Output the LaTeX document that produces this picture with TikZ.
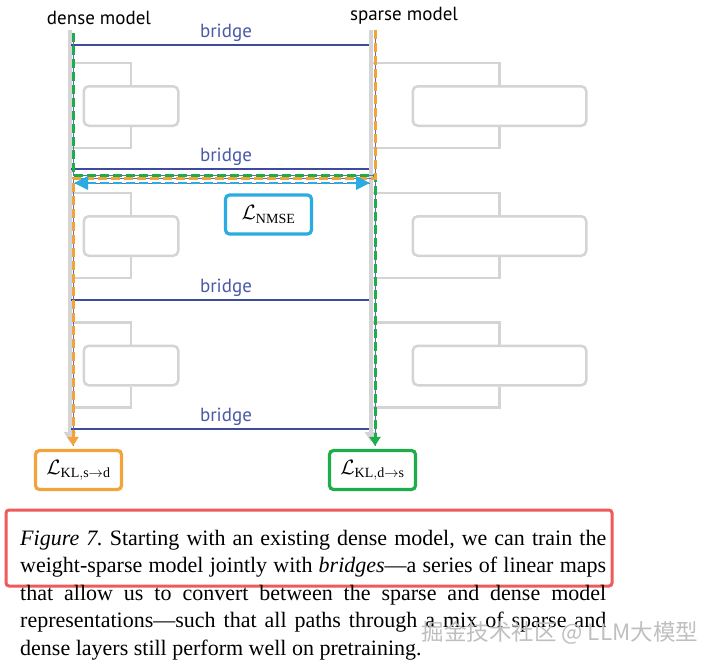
\documentclass[tikz,border=0pt]{standalone}
\usepackage{fontspec}
\setmainfont{Liberation Serif}
\newfontfamily\labelfont{PT Sans}
\newfontfamily\cjkfont{Noto Sans CJK SC}
\usetikzlibrary{arrows.meta}
\definecolor{streamgray}{HTML}{D4D4D4}
\definecolor{bridgeblue}{HTML}{3C4B9C}
\definecolor{bridgetext}{HTML}{4B5AA8}
\definecolor{klorange}{HTML}{F2A33A}
\definecolor{klgreen}{HTML}{1FAD4C}
\definecolor{nmseblue}{HTML}{2AACE2}
\definecolor{capred}{HTML}{EF5A5A}

\begin{document}
\begin{tikzpicture}[x=1pt,y=-1pt,
    stream/.style={draw=streamgray, line width=3.5pt, -{Triangle[width=12pt,length=10pt]}},
    blockbox/.style={draw=streamgray, line width=2.5pt, rounded corners=5pt, minimum height=39.5pt, inner sep=0pt},
    bracket/.style={draw=streamgray, line width=2.5pt},
    bridgeline/.style={draw=bridgeblue, line width=2.6pt},
    bridgelabel/.style={text=bridgetext, font=\labelfont\fontsize{19}{20}\selectfont, above, inner sep=2pt},
    lossbox/.style={rounded corners=4pt, line width=3.2pt, minimum width=86pt, minimum height=39pt, inner sep=0pt, fill=white, font=\fontsize{20}{24}\selectfont},
    lossdash/.style={line width=3pt, dash pattern=on 9pt off 4pt},
    thinpath/.style={draw=bridgeblue!80, line width=0.6pt}]
  \useasboundingbox[fill=white] (0,0) rectangle (708,669);

  % residual streams
  \coordinate (dtop) at (70,30);
  \coordinate (dbot) at (70,442);
  \coordinate (stop) at (371,30);
  \coordinate (sbot) at (371,442);
  \draw[stream] (dtop) -- (dbot);
  \draw[stream] (stop) -- (sbot);
  \node[font=\labelfont\fontsize{19}{20}\selectfont] (dlabel) at (99,18) {dense model};
  \node[font=\labelfont\fontsize{19}{20}\selectfont] (slabel) at (404,16) {sparse model};

  % blocks
  \foreach \i/\y in {1/106, 2/236, 3/365.5} {
    \node[blockbox, minimum width=94.5pt] (dblk\i) at (131,\y) {};
    \node[blockbox, minimum width=173.5pt] (sblk\i) at (499.5,\y) {};
    \draw[bracket] (dblk\i.north) |- ([yshift=22pt]dblk\i.north -| dtop);
    \draw[bracket] (dblk\i.south) |- ([yshift=-21pt]dblk\i.south -| dtop);
    \draw[bracket] (sblk\i.north) |- ([yshift=22pt]sblk\i.north -| stop);
    \draw[bracket] (sblk\i.south) |- ([yshift=-21pt]sblk\i.south -| stop);
  }

  % bridges
  \foreach \i/\y in {1/45, 2/169, 3/300, 4/429} {
    \coordinate (bl\i) at (71,\y);
    \coordinate (br\i) at (369,\y);
    \draw[bridgeline] (bl\i) -- node[bridgelabel, pos=0.52] {bridge} (br\i);
  }

  % losses
  \node[lossbox, draw=nmseblue] (nmse) at (268.5,214.5) {$\mathcal{L}_{\mathrm{NMSE}}$};
  \node[lossbox, draw=klorange] (klsd) at (78.5,470) {$\mathcal{L}_{\mathrm{KL,s\to d}}$};
  \node[lossbox, draw=klgreen] (klds) at (372.5,470) {$\mathcal{L}_{\mathrm{KL,d\to s}}$};

  % paths through the mix
  \coordinate (gstart) at (73,33);
  \coordinate (gturn) at (73,175);
  \coordinate (gcross) at (375,175);
  \coordinate (ostart) at (375,30);
  \coordinate (oturn) at (375,178);
  \coordinate (ocross) at (73,178);
  \coordinate (nl) at (74,183);
  \coordinate (nr) at (370,183);
  \draw[thinpath] (gstart) -- (gturn) -- (gcross) -- ([yshift=3pt]klds.north -| gcross);
  \draw[thinpath] (ostart) -- (oturn) -- (ocross) -- ([yshift=3pt]klsd.north -| ocross);
  \draw[thinpath] (nl) -- (nr);
  \draw[lossdash, draw=klgreen, -{Triangle[width=11pt,length=9pt]}]
    (gstart) -- (gturn) -- (gcross) -- ([yshift=3pt]klds.north -| gcross);
  \draw[lossdash, draw=klorange, -{Triangle[width=11pt,length=9pt]}]
    (ostart) -- (oturn) -- (ocross) -- ([yshift=3pt]klsd.north -| ocross);
  \draw[lossdash, draw=nmseblue, line width=2.6pt, {Triangle[width=13pt,length=14pt]}-{Triangle[width=13pt,length=14pt]}]
    (nl) -- (nr);

  % caption
  \draw[capred, line width=3pt, rounded corners=3pt] (6,510) rectangle (612,586);
  \node[anchor=north west, text width=586pt, align=justify, inner sep=0pt,
        font=\fontsize{22}{27.5}\selectfont\frenchspacing] (caption) at (20,530)
    {\textit{Figure 7.} Starting with an existing dense model, we can train the\linebreak
     weight-sparse model jointly with \textit{bridges}---a series of linear maps\linebreak
     that allow us to convert between the sparse and dense model\linebreak
     representations---such that all paths through a mix of sparse and\linebreak
     dense layers still perform well on pretraining.};
  \node[anchor=west, font=\cjkfont\fontsize{22.5}{24}\selectfont, text=black!25] (mark) at (418,633)
    {掘金技术社区 @ LLM大模型};
\end{tikzpicture}
\end{document}
